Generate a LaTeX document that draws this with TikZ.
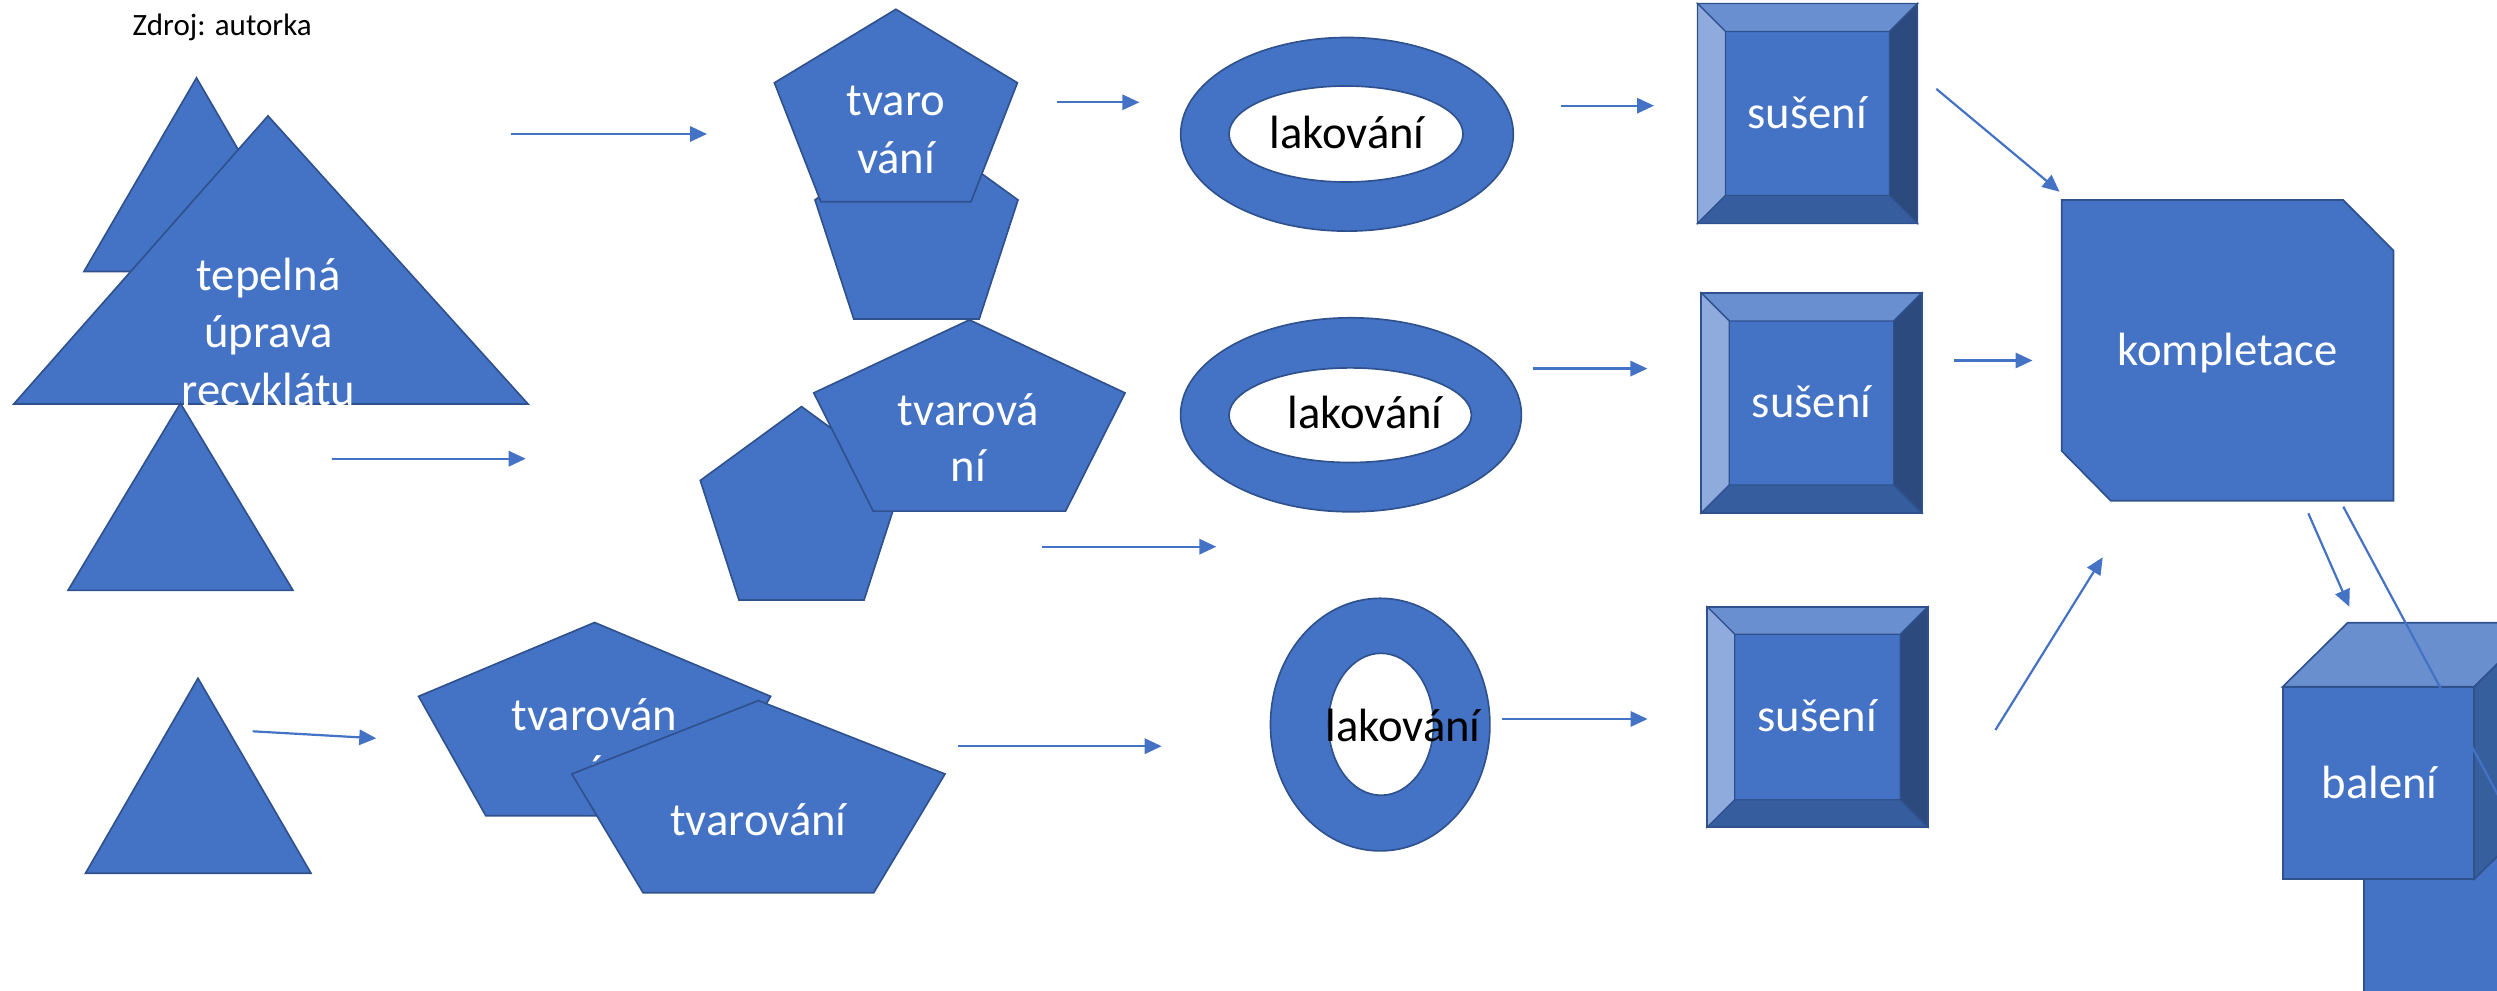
\documentclass[tikz,border=0pt]{standalone}
\usepackage{fontspec}
\setmainfont{Carlito}
\usetikzlibrary{arrows.meta}

\definecolor{mainblue}{HTML}{4472C4}
\definecolor{edgeblue}{HTML}{2F528F}
\definecolor{bevtop}{HTML}{6A8FD0}
\definecolor{bevleft}{HTML}{8FAADC}
\definecolor{bevright}{HTML}{2C4A7D}
\definecolor{bevbot}{HTML}{365E9E}
\definecolor{cubetop}{HTML}{6A8FCF}
\definecolor{cubeside}{HTML}{365F9E}

\tikzset{
  blueshape/.style={draw=edgeblue, fill=mainblue, line width=0.5pt, line join=miter},
  facestyle/.style={draw=edgeblue, line width=0.4pt, line join=miter},
  hole/.style={draw=edgeblue, fill=white, line width=0.5pt},
  conn/.style={draw=mainblue, line width=0.66pt, -{Triangle[length=5.1pt,width=4.6pt]}},
  plainline/.style={draw=mainblue, line width=0.66pt},
  lbl/.style={text=white, font=\fontsize{14pt}{17pt}\selectfont, anchor=base, inner sep=0pt},
  darklbl/.style={lbl, text=black},
}

% pentagon: style, centre x, top y, width, height
\newcommand\drawpenta[5]{%
  \path[blueshape,#1] (#2,#3) -- ({#2+0.5*#4},{#3+0.382*#5}) -- ({#2+0.309*#4},{#3+#5})
    -- ({#2-0.309*#4},{#3+#5}) -- ({#2-0.5*#4},{#3+0.382*#5}) -- cycle;}

% bevelled box: x1, y1, x2, y2, bevel
\newcommand\bevelbox[5]{%
  \path[blueshape] (#1,#2) rectangle (#3,#4);
  \path[facestyle, fill=bevtop] (#1,#2) -- (#3,#2) -- ({#3-#5},{#2+#5}) -- ({#1+#5},{#2+#5}) -- cycle;
  \path[facestyle, fill=bevleft] (#1,#2) -- ({#1+#5},{#2+#5}) -- ({#1+#5},{#4-#5}) -- (#1,#4) -- cycle;
  \path[facestyle, fill=bevright] (#3,#2) -- (#3,#4) -- ({#3-#5},{#4-#5}) -- ({#3-#5},{#2+#5}) -- cycle;
  \path[facestyle, fill=bevbot] (#1,#4) -- (#3,#4) -- ({#3-#5},{#4-#5}) -- ({#1+#5},{#4-#5}) -- cycle;
  \path[draw=edgeblue, line width=0.5pt] (#1,#2) rectangle (#3,#4);}

\begin{document}
\begin{tikzpicture}[x={(0.3pt,0)}, y={(0,-0.3pt)}]
\useasboundingbox (0,0) rectangle (2497,991);
\clip (0,0) rectangle (2497,991);

% source note
\node[anchor=base west, inner sep=0pt, font=\fontsize{9.3pt}{11pt}\selectfont] (zdroj) at (132,36) {Zdroj: autorka};

% triangles
\path[blueshape] (196.5,77.9) -- (309,271.5) -- (84,271.5) -- cycle;
\path[blueshape] (268,115.9) -- (528,404) -- (13.8,404) -- cycle;
\node[lbl] (tepA) at (268.5,290.6) {tepelná};
\node[lbl] (tepB) at (268.5,347.8) {úprava};
\node[lbl] (tepC) at (268.5,405.5) {recyklátu};
\path[blueshape] (180.4,403.3) -- (293,590.4) -- (68,590.4) -- cycle;
\path[blueshape] (198,678.3) -- (311,873.3) -- (85.5,873.3) -- cycle;

% pentagons, top row
\drawpenta{}{916.5}{126.4}{203}{192.6}
\drawpenta{}{895.9}{9.3}{243}{192.4}
\node[lbl] (tvA1) at (896,116) {tvaro};
\node[lbl] (tvA2) at (896,173.3) {vání};

% pentagons, middle row
\drawpenta{}{801.5}{406.6}{202.4}{193.4}
\drawpenta{}{969.4}{319.9}{311.3}{191.2}
\node[lbl] (tvB1) at (968.5,425.3) {tvarová};
\node[lbl] (tvB2) at (968.5,481.6) {ní};

% pentagons, bottom row
\drawpenta{}{594.6}{622.5}{352}{193.3}
\node[lbl] (tvC1) at (594.5,730) {tvarován};
\node[lbl] (tvC2) at (594.5,787) {í};
\drawpenta{}{758.4}{700.6}{373.2}{192.1}
\node[lbl] (tvD) at (758.4,835) {tvarování};

% rings
\path[blueshape] (1347,134.3) ellipse [x radius=166.3, y radius=96.8];
\path[hole] (1346,134) ellipse [x radius=117, y radius=48];
\node[darklbl] (lak1) at (1347,149) {lakování};
\path[blueshape] (1351,414.8) ellipse [x radius=170.4, y radius=97];
\path[hole] (1350.2,415.2) ellipse [x radius=121.2, y radius=47.3];
\node[darklbl] (lak2) at (1365,428.6) {lakování};
\path[blueshape] (1380.2,724.6) ellipse [x radius=109.7, y radius=126.3];
\path[hole] (1381,724.3) ellipse [x radius=52.5, y radius=71];
\node[darklbl] (lak3) at (1403,741) {lakování};

% drying boxes
\bevelbox{1697.5}{3.5}{1917.5}{223.5}{28}
\node[lbl] (sus1) at (1807.4,128.5) {sušení};
\bevelbox{1701.3}{293}{1921.8}{513}{28}
\node[lbl] (sus2) at (1811.5,418) {sušení};
\bevelbox{1707.2}{606.7}{1927.8}{827.3}{27.5}
\node[lbl] (sus3) at (1817,731.7) {sušení};

% assembly
\path[blueshape] (2061.7,200) -- (2343.1,200) -- (2393.4,250.4) -- (2393.4,500.8)
  -- (2110.8,500.8) -- (2061.7,451) -- cycle;
\node[lbl] (komp) at (2227.6,366) {kompletace};

% packing cube and the block behind it
\path[blueshape] (2364.3,840) rectangle (2600,1040);
\path[blueshape] (2282.7,686.7) rectangle (2474.3,879);
\path[blueshape, fill=cubetop] (2282.7,686.7) -- (2347.7,622.7) -- (2539.3,622.7) -- (2474.3,686.7) -- cycle;
\path[blueshape, fill=cubeside] (2474.3,686.7) -- (2539.3,622.7) -- (2539.3,815) -- (2474.3,879) -- cycle;
\node[lbl] (bal) at (2379.5,798.3) {balení};

% connector end points
\coordinate (a1s) at (511,134);      \coordinate (a1e) at (707,134);
\coordinate (a2s) at (331.5,458.7);  \coordinate (a2e) at (525.7,458.7);
\coordinate (a3s) at (252.6,731.3);  \coordinate (a3e) at (376.3,738.3);
\coordinate (a4s) at (1057,102.3);   \coordinate (a4e) at (1139.3,102.3);
\coordinate (a5s) at (1042.3,546.7); \coordinate (a5e) at (1216.3,546.7);
\coordinate (a6s) at (958,746.2);    \coordinate (a6e) at (1161.7,746.2);
\coordinate (a7s) at (1560.7,105.7); \coordinate (a7e) at (1654,105.7);
\coordinate (a8s) at (1532.7,368.6); \coordinate (a8e) at (1647.4,368.6);
\coordinate (a9s) at (1502.3,719);   \coordinate (a9e) at (1647.6,719);
\coordinate (a10s) at (1936.3,88.9); \coordinate (a10e) at (2059.5,191.7);
\coordinate (a11s) at (1953.6,360.5);\coordinate (a11e) at (2032.5,360.5);
\coordinate (a12s) at (1995.4,730);  \coordinate (a12e) at (2102.7,557.3);
\coordinate (a13s) at (2308.3,513.3);\coordinate (a13e) at (2349.3,606.7);
\coordinate (l14s) at (2343.3,506.7);\coordinate (l14e) at (2530,855);

\draw[conn] (a1s) -- (a1e);
\draw[conn] (a2s) -- (a2e);
\draw[conn] (a3s) -- (a3e);
\draw[conn] (a4s) -- (a4e);
\draw[conn] (a5s) -- (a5e);
\draw[conn] (a6s) -- (a6e);
\draw[conn] (a7s) -- (a7e);
\draw[conn] (a8s) -- (a8e);
\draw[conn] (a9s) -- (a9e);
\draw[conn] (a10s) -- (a10e);
\draw[conn] (a11s) -- (a11e);
\draw[conn] (a12s) -- (a12e);
\draw[conn] (a13s) -- (a13e);
\draw[plainline] (l14s) -- (l14e);
\end{tikzpicture}
\end{document}
